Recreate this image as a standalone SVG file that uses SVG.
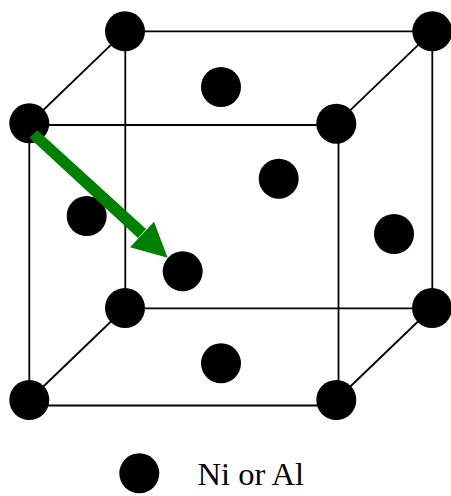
<svg xmlns="http://www.w3.org/2000/svg" width="451" height="496" viewBox="0 0 451 496">
<style>
.e{stroke:#000;stroke-width:1.800;fill:none}
.a{fill:#000}
</style>
<rect width="451" height="496" fill="#fff"/>
<g id="connectors">
<path class="e" d="M125.300 31.300H432.300V308.300H125.300Z"/>
<path class="e" d="M29.300 125H338.500V405.500H29.300Z"/>
<path class="e" d="M29.300 123.500L125 31.300M336.300 123.700L432.300 31.300M29.300 400L125 308M336.300 400L432 308"/>
</g>
<g id="a1"><circle class="a" cx="125" cy="31.300" r="20"/></g>
<g id="a2"><circle class="a" cx="432.300" cy="31.300" r="20"/></g>
<g id="a3"><circle class="a" cx="29.300" cy="123.300" r="20"/></g>
<g id="a4"><circle class="a" cx="336.300" cy="123.700" r="20"/></g>
<g id="a5"><circle class="a" cx="125" cy="308" r="20"/></g>
<g id="a6"><circle class="a" cx="432" cy="308" r="20"/></g>
<g id="a7"><circle class="a" cx="29.300" cy="400" r="20"/></g>
<g id="a8"><circle class="a" cx="336.300" cy="400" r="20"/></g>
<g id="f1"><circle class="a" cx="221" cy="87" r="20"/></g>
<g id="f2"><circle class="a" cx="278.700" cy="178.700" r="20"/></g>
<g id="f3"><circle class="a" cx="86.700" cy="216" r="20"/></g>
<g id="f4"><circle class="a" cx="394" cy="234" r="20"/></g>
<g id="f5"><circle class="a" cx="182.700" cy="271.300" r="20"/></g>
<g id="f6"><circle class="a" cx="221" cy="363.300" r="20"/></g>
<g id="arrow">
<path d="M29.300 137.700L37.300 130L146 229L138 238Z" fill="#008000"/>
<path d="M167.700 257.700L154 221.700L130 247.300Z" fill="#008000"/>
</g>
<g id="legend">
<circle class="a" cx="139.300" cy="473.300" r="20"/>
<text x="197.500" y="485" font-family="Liberation Serif, serif" font-size="32.500">Ni or Al</text>
</g>
</svg>
